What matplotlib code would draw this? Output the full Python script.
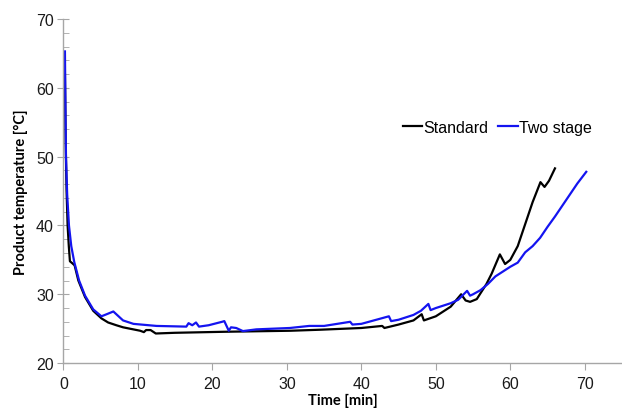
import matplotlib
matplotlib.use('Agg')
import matplotlib.pyplot as plt
from matplotlib.ticker import MultipleLocator

# Standard drying run
std_time = [0.2, 0.3, 0.42, 0.56, 0.72, 0.87, 1.2, 1.5, 2, 2.9, 4, 5.1, 6, 7.1, 8, 10.3, 10.8, 11.1, 11.7, 12.4,
            14.9, 21.6, 30.5, 34.5, 40, 42.8, 43.1, 45, 47, 48.1, 48.4, 50, 52, 53.4, 54.0, 54.6,
            55.5, 56.8, 57.5, 58.6, 59.3, 60, 61, 62, 63, 64.05, 64.6, 65.2, 66]
std_temp = [62, 52, 45, 40, 37, 34.8, 34.5, 34.2, 32.0, 29.6, 27.6, 26.5, 25.9, 25.5, 25.2, 24.7, 24.5, 24.8, 24.8, 24.3,
            24.4, 24.55, 24.7, 24.85, 25.1, 25.4, 25.1, 25.6, 26.2, 27.1, 26.2, 26.8, 28.2, 30.0, 29.1, 28.9,
            29.3, 31.5, 33.0, 35.8, 34.4, 35.0, 37.0, 40.2, 43.4, 46.3, 45.6, 46.5, 48.3]

# Two stage run
two_time = [0.2, 0.27, 0.34, 0.5, 0.74, 1.05, 1.45, 2.1, 2.9, 4, 5.1, 5.8, 6.7, 8, 9.4, 12.5, 16.5, 16.8, 17.3, 17.8,
            18.2, 19.5, 21.3, 21.6, 22.2, 22.5, 23.2, 24.1, 25.9, 30.4, 33, 35, 38.5, 38.8, 40, 43.7,
            44.0, 45, 47, 48, 49.0, 49.3, 50, 52, 53, 54.2, 54.6, 55, 56, 57, 58, 59, 60, 61, 62, 63,
            64, 65, 66, 67, 68, 69, 70.2]
two_temp = [65.3, 57, 50, 44.5, 40, 37, 34.7, 32.0, 29.8, 27.8, 26.8, 27.1, 27.5, 26.2, 25.7, 25.4, 25.3, 25.8, 25.5, 25.9,
            25.3, 25.5, 26.0, 26.1, 24.7, 25.2, 25.1, 24.65, 24.9, 25.1, 25.4, 25.4, 26.0, 25.6, 25.7, 26.8,
            26.1, 26.3, 27.0, 27.6, 28.6, 27.7, 28.0, 28.7, 29.2, 30.5, 29.8, 30.0, 30.6, 31.5, 32.6, 33.3, 34.0,
            34.6, 36.1, 37.0, 38.2, 39.8, 41.3, 42.9, 44.5, 46.1, 47.8]

x_ticks = [0, 10, 20, 30, 40, 50, 60, 70]
y_ticks = [20, 30, 40, 50, 60, 70]

fig = plt.figure(figsize=(6.22, 4.10), dpi=100)
ax = fig.add_axes([0.102, 0.112, 0.898, 0.839])

ax.plot(std_time, std_temp, color='black', lw=1.6, label='Standard')
ax.plot(two_time, two_temp, color='#1414f0', lw=1.6, label='Two stage')

ax.set_xlim(0, 75)
ax.set_ylim(20, 70)
ax.set_xticks(x_ticks)
ax.set_yticks(y_ticks)
ax.yaxis.set_minor_locator(MultipleLocator(2))

for s in ['top', 'right']:
    ax.spines[s].set_visible(False)
for s in ['left', 'bottom']:
    ax.spines[s].set_color('#a6a6a6')
    ax.spines[s].set_linewidth(1.0)

ax.tick_params(axis='both', which='major', color='#a6a6a6', length=5, labelsize=11.5, pad=4)
ax.tick_params(axis='y', which='major', direction='inout', length=8, pad=3)
ax.tick_params(axis='y', which='minor', direction='in', color='#a6a6a6', length=4)
for lab in ax.get_xticklabels() + ax.get_yticklabels():
    lab.set_fontfamily('Liberation Sans')
    lab.set_color('#1a1a1a')

ax.set_xlabel('Time [min]', fontsize=10.5, fontweight='bold', family='Lato', labelpad=2)
ax.set_ylabel('Product temperature [°C]', fontsize=10.5, fontweight='bold', family='Lato', labelpad=6)

leg = ax.legend(loc='center right', bbox_to_anchor=(0.972, 0.686), ncol=2, frameon=False,
                handlelength=1.2, handletextpad=0.1, columnspacing=0.6,
                prop={'family': 'Liberation Sans', 'size': 11.5})

fig.savefig('out.png', dpi=100)
